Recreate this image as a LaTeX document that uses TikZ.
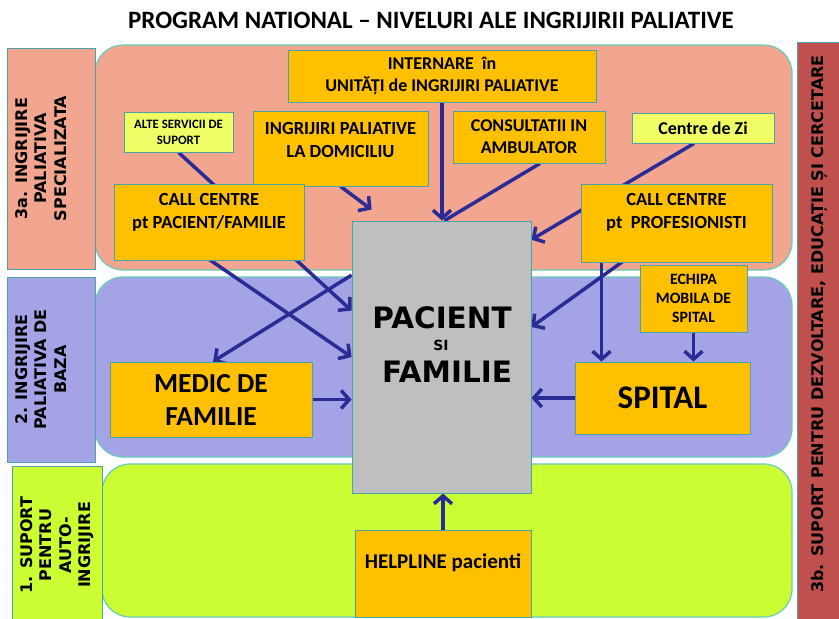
\documentclass[tikz,border=0pt]{standalone}
\usepackage{fontspec}
\setmainfont{Carlito}
\newfontfamily\vfont{DejaVu Sans}
\usetikzlibrary{arrows.meta,calc}
\definecolor{salmon}{HTML}{F3A68F}
\definecolor{lavender}{HTML}{A3A3E6}
\definecolor{limeg}{HTML}{CCFF33}
\definecolor{redbar}{HTML}{C0504D}
\definecolor{orangebox}{HTML}{FFC000}
\definecolor{yellowbox}{HTML}{F0FF66}
\definecolor{graybox}{HTML}{BFBFBF}
\definecolor{boxline}{HTML}{4BA3A8}
\definecolor{regline}{HTML}{66CCBB}
\definecolor{arrowc}{HTML}{2B2B96}
\pgfdeclarelayer{back}
\pgfdeclarelayer{mid}
\pgfsetlayers{back,mid,main}
\tikzset{
  region/.style={rounded corners=28pt, draw=regline, line width=1.2pt},
  sidelab/.style={draw=boxline, line width=0.9pt},
  sidetext/.style={rotate=90, align=center, font=\vfont\bfseries\fontsize{16}{19.5}\selectfont},
  obox/.style={draw=boxline, fill=orangebox, line width=0.9pt, inner sep=0pt, align=center, font=\bfseries},
  ybox/.style={obox, fill=yellowbox},
  txt/.style={align=center, inner sep=0pt, font=\bfseries},
  arr/.style={draw=arrowc, line width=3.5pt, -{Straight Barb[length=8pt,width=18pt]}},
  plainline/.style={draw=arrowc, line width=3.5pt},
}
\begin{document}
\begin{tikzpicture}[x=1pt,y=-1pt]
\useasboundingbox (0,0) rectangle (839,619);
\begin{pgfonlayer}{back}
\fill[white] (0,0) rectangle (839,619);
\node[font=\bfseries\fontsize{25}{28}\selectfont, inner sep=0pt] (title) at (431,20) {PROGRAM NATIONAL – NIVELURI ALE INGRIJIRII PALIATIVE};
% regions
\draw[region, fill=salmon] (95,45) rectangle (792,270);
\draw[region, fill=lavender] (95,277) rectangle (792,457);
\draw[region, fill=limeg] (102,464) rectangle (792,617);
% side labels
\draw[sidelab, fill=salmon] (7,48) rectangle (95,269);
\draw[sidelab, fill=lavender] (7,277) rectangle (95,462);
\draw[sidelab, fill=limeg] (12,466) rectangle (102,621);
\node[sidetext] (lab3a) at (41,158.5) {3a. INGRIJIRE\\PALIATIVA\\SPECIALIZATA};
\node[sidetext] (lab2) at (41,369.5) {2. INGRIJIRE\\PALIATIVA DE\\BAZA};
\node[sidetext] (lab1) at (57,545) {1. SUPORT\\PENTRU\\AUTO-\\INGRIJIRE};
% right bar
\draw[sidelab, fill=redbar] (797,42) rectangle (841,621);
\node[rotate=90, font=\vfont\bfseries\fontsize{16}{18}\selectfont] (lab3b) at (819,324) {3b. SUPORT PENTRU DEZVOLTARE, EDUCAȚIE ȘI CERCETARE};
\end{pgfonlayer}

% boxes
\node[obox, minimum width=308pt, minimum height=52pt, font=\bfseries\fontsize{18}{22}\selectfont] (internare) at (442,76) {INTERNARE~~în\\UNITĂȚI de INGRIJIRI PALIATIVE};
\node[ybox, minimum width=109pt, minimum height=40pt, font=\bfseries\fontsize{12.8}{16}\selectfont] (alte) at (178.5,132) {ALTE SERVICII DE\\SUPORT};
\node[obox, minimum width=175pt, minimum height=75pt] (domic) at (340.5,148.5) {};
\node[txt, font=\bfseries\fontsize{18.5}{23}\selectfont] (domict) at (340.5,140) {INGRIJIRI PALIATIVE\\LA DOMICILIU};
\node[obox, minimum width=152pt, minimum height=52pt, font=\bfseries\fontsize{18}{22}\selectfont] (consult) at (529,137) {CONSULTATII IN\\AMBULATOR};
\node[ybox, minimum width=142pt, minimum height=30pt, font=\bfseries\fontsize{18}{20}\selectfont] (centrezi) at (703,128) {Centre de Zi};
\node[obox, minimum width=190pt, minimum height=76pt] (callpf) at (209,222) {};
\node[txt, font=\bfseries\fontsize{18.5}{23}\selectfont] (callpft) at (209,212) {CALL CENTRE\\pt PACIENT/FAMILIE};
\node[obox, minimum width=191pt, minimum height=78pt] (callprof) at (676.5,223) {};
\node[txt, font=\bfseries\fontsize{18.5}{23}\selectfont] (callproft) at (676.5,212) {CALL CENTRE\\pt~~PROFESIONISTI};
\node[obox, fill=graybox, minimum width=179pt, minimum height=272pt] (pac) at (441.5,357) {};
\node[txt, font=\vfont\bfseries\fontsize{29.5}{29.5}\selectfont] (pact1) at (442,318) {PACIENT};
\node[txt, font=\vfont\bfseries\fontsize{14}{14}\selectfont] (pact2) at (441,345) {SI};
\node[txt, font=\vfont\bfseries\fontsize{29.5}{29.5}\selectfont] (pact3) at (447,372) {FAMILIE};
\node[obox, minimum width=107pt, minimum height=67pt, font=\bfseries\fontsize{15.8}{19}\selectfont] (echipa) at (693.5,298.5) {ECHIPA\\MOBILA DE\\SPITAL};
\node[obox, minimum width=202pt, minimum height=75pt, font=\bfseries\fontsize{27.5}{33}\selectfont] (medic) at (211,399.5) {MEDIC DE\\FAMILIE};
\node[obox, minimum width=175pt, minimum height=72pt, font=\bfseries\fontsize{33}{36}\selectfont] (spital) at (662.5,398) {SPITAL};
\node[obox, minimum width=176pt, minimum height=87pt] (helpline) at (443,573.5) {};
\node[txt, font=\bfseries\fontsize{21}{24}\selectfont] (helplinet) at (443,563) {HELPLINE pacienti};

% connectors
\begin{pgfonlayer}{mid}
\coordinate (domtip) at ($(pac.north west)+(20,-11)$);
\coordinate (cps) at ($(callprof.south west)+(21,0)$);
\draw[arr] (alte.south) -- ($(pac.north west)!0.33!(pac.south west)$);
\draw[arr] ($(callpf.south)+(-10,-8)$) -- (pac.west);
\draw[arr] ($(pac.north west)!0.2!(pac.south west)$) -- ($(medic.north)+(2,0)$);
\draw[arr] (medic.east) -- (medic.east -| pac.west);
\draw[arr] (domic.south) -- (domtip);
\draw[arr] (internare.south) -- (internare.south |- pac.north);
\draw[plainline] ($(consult.south)+(11,0)$) -- ($(pac.north)+(3,0)$);
\draw[arr] ($(centrezi.south)+(-9,0)$) -- ($(pac.north east)!0.07!(pac.south east)$);
\draw[arr] (callprof.center) -- ($(pac.north east)!0.39!(pac.south east)$);
\draw[arr] (cps) -- (cps |- spital.north);
\draw[arr] (echipa.south) -- (echipa.south |- spital.north);
\draw[arr] (spital.west) -- (spital.west -| pac.east);
\draw[arr] (helpline.north) -- (helpline.north |- pac.south);
\end{pgfonlayer}
\end{tikzpicture}
\end{document}
